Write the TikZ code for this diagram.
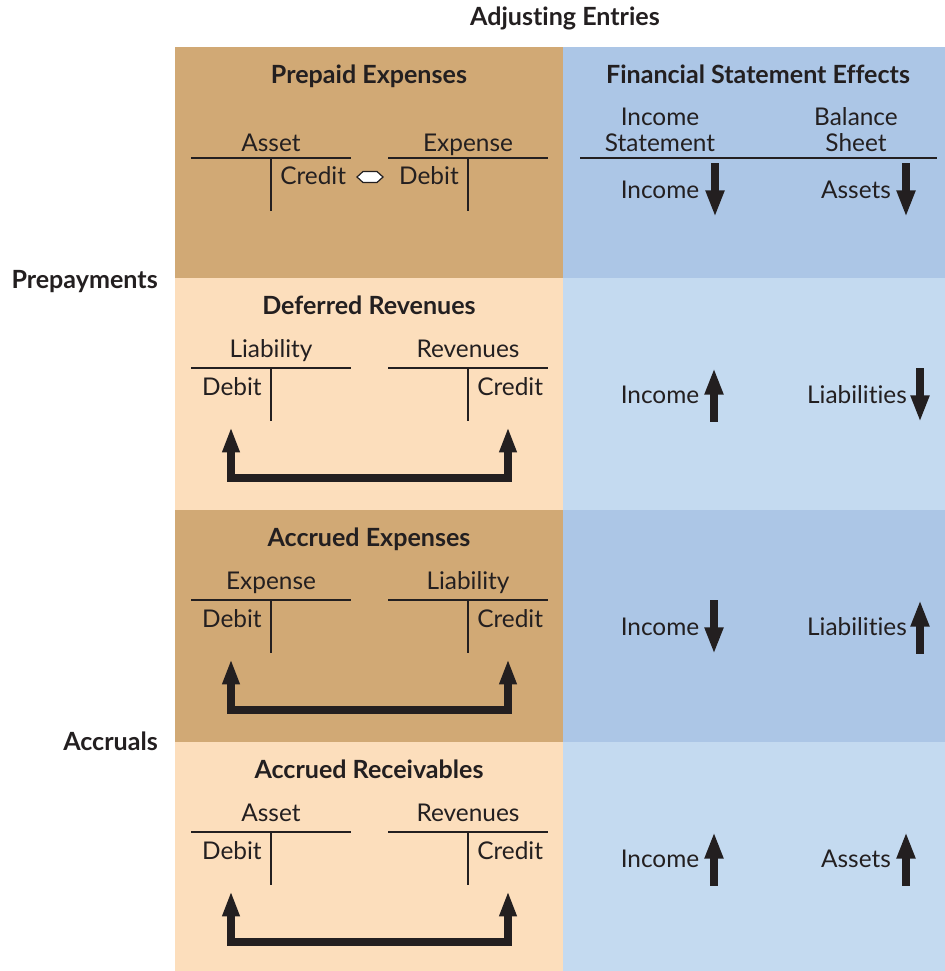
\documentclass[tikz,border=0pt]{standalone}
\usepackage{fontspec}
\setmainfont[Ligatures=NoCommon]{Lato}
\usetikzlibrary{arrows.meta}
\definecolor{tanbg}{RGB}{209,169,117}
\definecolor{peachbg}{RGB}{252,222,188}
\definecolor{bluedk}{RGB}{172,198,230}
\definecolor{bluelt}{RGB}{196,218,240}
\definecolor{ink}{RGB}{35,31,32}
\newcommand\noti{t\kern0pt i}
\tikzset{
  txt/.style={inner sep=0pt, text=ink, font=\fontsize{18.3}{21}\selectfont, text height=13.1pt, text depth=0pt},
  hdr/.style={txt, font=\fontsize{18.8}{21}\selectfont\bfseries, text height=13.4pt},
  tline/.style={draw=ink, line width=1.2pt},
  arrdn/.style={draw=ink, line width=6pt, -{Triangle[length=20pt,width=13pt]}},
  arrup/.style={draw=ink, line width=6pt, {Triangle[length=20pt,width=13pt]}-},
  bracket/.style={draw=ink, line width=5.5pt, line join=miter, {Triangle[length=19pt,width=12pt]}-{Triangle[length=19pt,width=12pt]}},
}
% #1 row top, #2 suffix, #3 header, #4 left account, #5 right account
\newcommand\entryrow[5]{%
\begin{scope}[shift={(0,#1)}]
\node[hdr] (h#2) at (369,28) {#3};
\node[txt] (la#2) at (271,71) {#4};
\node[txt] (ra#2) at (468,71) {#5};
\draw[tline] (191,90) -- (351,90) (271,90) -- (271,143) (388,90) -- (548,90) (468,90) -- (468,143);
\node[txt, anchor=east] (dr#2) at (262,109) {Debit};
\node[txt, anchor=west] (cr#2) at (477,109) {Credit};
\coordinate (bl#2) at (231,149);
\coordinate (bc#2) at (231,200);
\coordinate (bd#2) at (508,200);
\coordinate (br#2) at (508,149);
\draw[bracket] (bl#2) -- (bc#2) -- (bd#2) -- (br#2);
\end{scope}}
\begin{document}
\begin{tikzpicture}[x=0.75pt,y=-0.75pt]
\useasboundingbox (0,0) rectangle (945,971);
% backgrounds
\fill[tanbg] (175,47) rectangle (563,278);
\fill[peachbg] (175,278) rectangle (563,510);
\fill[tanbg] (175,510) rectangle (563,742);
\fill[peachbg] (175,742) rectangle (563,971);
\fill[bluedk] (563,47) rectangle (945,278);
\fill[bluelt] (563,278) rectangle (945,510);
\fill[bluedk] (563,510) rectangle (945,742);
\fill[bluelt] (563,742) rectangle (945,971);
% titles
\node[hdr] (title) at (565,17) {Adjus\noti ng Entries};
\node[hdr, anchor=east] (prep) at (158,280) {Prepayments};
\node[hdr, anchor=east] (accr) at (158,742) {Accruals};
% row 1 left
\node[hdr] (h1) at (369,75) {Prepaid Expenses};
\node[txt] (la1) at (271,143) {Asset};
\node[txt] (ra1) at (468,143) {Expense};
\draw[tline] (191,158) -- (351,158) (271,158) -- (271,211) (388,158) -- (548,158) (468,158) -- (468,211);
\node[txt, anchor=west] (cr1) at (280,176) {Credit};
\node[txt, anchor=east] (dr1) at (459,176) {Debit};
\draw[fill=white, draw=ink, line width=0.9pt] (357,177) -- (363,171.5) -- (377,171.5) -- (383,177) -- (377,182.5) -- (363,182.5) -- cycle;
% row 1 right
\node[hdr] (fse) at (758,75) {Financial Statement Effects};
\node[txt] (is1) at (660,117) {Income};
\node[txt] (is2) at (660,143) {Statement};
\node[txt] (bs1) at (856,117) {Balance};
\node[txt] (bs2) at (856,143) {Sheet};
\draw[tline] (580,158) -- (937,158);
\node[txt] (inc1) at (660,190) {Income};
\coordinate (ia1) at (715,163); \coordinate (ib1) at (715,217);
\draw[arrdn] (ia1) -- (ib1);
\node[txt] (bsl1) at (856,190) {Assets};
\coordinate (ba1) at (906,163); \coordinate (bb1) at (906,217);
\draw[arrdn] (ba1) -- (bb1);
% rows 2-4 left
\entryrow{278}{2}{Deferred Revenues}{Liability}{Revenues}
\entryrow{510}{3}{Accrued Expenses}{Expense}{Liability}
\entryrow{742}{4}{Accrued Receivables}{Asset}{Revenues}
% rows 2-4 right
\node[txt] (inc2) at (660,395) {Income};
\coordinate (ia2) at (714,368); \coordinate (ib2) at (714,422);
\draw[arrup] (ia2) -- (ib2);
\node[txt] (bsl2) at (857,395) {Liabili\noti es};
\coordinate (ba2) at (920,368); \coordinate (bb2) at (920,422);
\draw[arrdn] (ba2) -- (bb2);
\node[txt] (inc3) at (660,627) {Income};
\coordinate (ia3) at (714,600); \coordinate (ib3) at (714,654);
\draw[arrdn] (ia3) -- (ib3);
\node[txt] (bsl3) at (857,627) {Liabili\noti es};
\coordinate (ba3) at (920,600); \coordinate (bb3) at (920,654);
\draw[arrup] (ba3) -- (bb3);
\node[txt] (inc4) at (660,859) {Income};
\coordinate (ia4) at (714,832); \coordinate (ib4) at (714,886);
\draw[arrup] (ia4) -- (ib4);
\node[txt] (bsl4) at (856,859) {Assets};
\coordinate (ba4) at (906,832); \coordinate (bb4) at (906,886);
\draw[arrup] (ba4) -- (bb4);
\end{tikzpicture}
\end{document}
